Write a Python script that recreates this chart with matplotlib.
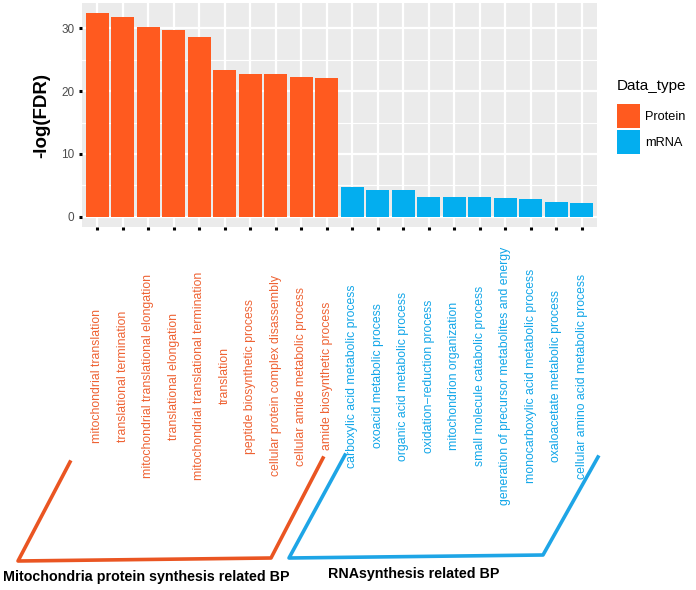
import numpy as np
import matplotlib.pyplot as plt
from matplotlib.lines import Line2D
from matplotlib.patches import Patch
from matplotlib.transforms import blended_transform_factory

plt.rcParams['font.family'] = ['Liberation Sans', 'DejaVu Sans']

# данные: термины GO и -log(FDR)
protein_terms = ['mitochondrial translation', 'translational termination',
                 'mitochondrial translational elongation', 'translational elongation',
                 'mitochondrial translational termination', 'translation',
                 'peptide biosynthetic process', 'cellular protein complex disassembly',
                 'cellular amide metabolic process', 'amide biosynthetic process']
protein_vals = [32.4, 31.8, 30.3, 29.8, 28.6, 23.4, 22.8, 22.8, 22.2, 22.1]

mrna_terms = ['carboxylic acid metabolic process', 'oxoacid metabolic process',
              'organic acid metabolic process', 'oxidation\u2212reduction process',
              'mitochondrion organization', 'small molecule catabolic process',
              'generation of precursor metabolites and energy',
              'monocarboxylic acid metabolic process', 'oxaloacetate metabolic process',
              'cellular amino acid metabolic process']
mrna_vals = [4.75, 4.3, 4.3, 3.15, 3.15, 3.15, 3.0, 2.8, 2.4, 2.25]

y_ticks = [0, 10, 20, 30]

c_prot = '#FF5A1F'
c_mrna = '#03AEEF'
c_prot_txt = '#EE6233'
c_mrna_txt = '#12A6E8'

W, H = 696, 590
fig = plt.figure(figsize=(W / 100, H / 100), dpi=100)
ax = fig.add_axes([82 / W, 1 - 227 / H, (597 - 82) / W, 224 / H])

terms = protein_terms + mrna_terms
vals = protein_vals + mrna_vals
cols = [c_prot] * len(protein_vals) + [c_mrna] * len(mrna_vals)
x = np.arange(len(terms))

ax.set_facecolor('#EBEBEB')
ax.bar(x, vals, width=0.9, color=cols, zorder=3)
ax.set_xlim(-0.6, len(terms) - 0.4)
ax.set_ylim(-1.65, 34.05)

# сетка как в ggplot
for yv in [5, 15, 25]:
    ax.axhline(yv, color='white', lw=0.8, zorder=1)
for yv in y_ticks:
    ax.axhline(yv, color='white', lw=1.6, zorder=1)
for xv in x:
    ax.axvline(xv, color='white', lw=1.6, zorder=1)

for s in ax.spines.values():
    s.set_visible(False)
ax.set_yticks(y_ticks)
ax.set_yticklabels([str(v) for v in y_ticks], fontsize=8.5, color='#4D4D4D')
ax.set_xticks(x)
ax.set_xticklabels([])
ax.tick_params(axis='both', length=2.5, width=2.2, color='black', pad=3)
ax.set_ylabel('-log(FDR)', fontsize=13.5, fontweight='bold', labelpad=8)

# подписи категорий
tr = blended_transform_factory(ax.transData, fig.transFigure)
for i, t in enumerate(terms):
    ax.text(x[i], 1 - 376 / H, t, transform=tr, rotation=90, ha='center', va='center',
            fontsize=8.8, color=c_prot_txt if cols[i] == c_prot else c_mrna_txt,
            clip_on=False)

# легенда
handles = [Patch(facecolor=c_prot, label='Protein'), Patch(facecolor=c_mrna, label='mRNA')]
leg = fig.legend(handles=handles, title='Data_type', loc='upper left',
                 bbox_to_anchor=(617 / W, 1 - 79 / H), frameon=False, fontsize=9.2,
                 title_fontsize=11, handlelength=1.8, handleheight=2.5,
                 handletextpad=0.4, labelspacing=0.15, borderpad=0, borderaxespad=0)
leg._legend_box.align = 'left'
leg._legend_box.sep = 8

# скобки групп
def bracket(pts, color):
    xs = [p[0] / W for p in pts]
    ys = [1 - p[1] / H for p in pts]
    fig.add_artist(Line2D(xs, ys, color=color, lw=2.6, transform=fig.transFigure))

bracket([(70, 462), (18, 561), (271, 558), (323, 458)], '#EA5522')
bracket([(345, 455), (289, 558), (543, 555), (598, 457)], '#1EA5E6')

fig.text(3 / W, 1 - 577 / H, 'Mitochondria protein synthesis related BP',
         fontweight='bold', fontsize=10.3, ha='left', va='center')
fig.text(328 / W, 1 - 574 / H, 'RNAsynthesis related BP',
         fontweight='bold', fontsize=10.3, ha='left', va='center')

fig.savefig('out.png', dpi=100)
